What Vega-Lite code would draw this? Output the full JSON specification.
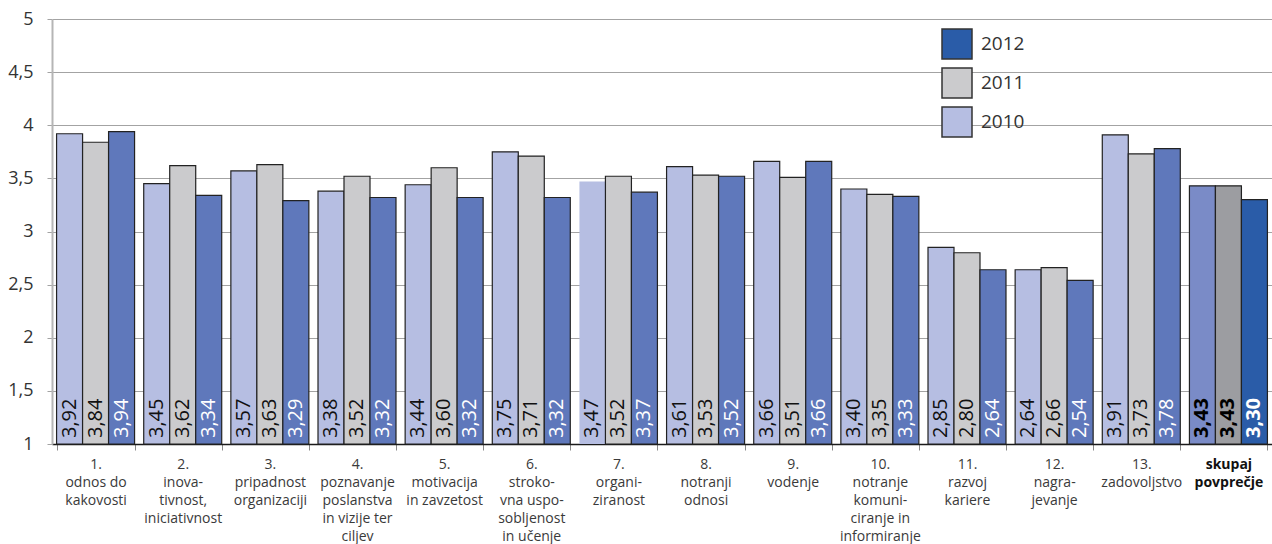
{
  "$schema": "https://vega.github.io/schema/vega-lite/v6.json",
  "width": 1220,
  "height": 425,
  "autosize": {"type": "none"},
  "padding": {"left": 52, "top": 19, "right": 0, "bottom": 100},
  "background": "#ffffff",
  "config": {
    "view": {"stroke": null},
    "font": "Open Sans",
    "locale": {"number": {"decimal": ",", "thousands": ".", "grouping": [3], "currency": ["", " €"]}}
  },
  "data": {
    "values": [
      {"podrocje": "1.|odnos do|kakovosti", "leto": "2010", "ocena": 3.92},
      {"podrocje": "1.|odnos do|kakovosti", "leto": "2011", "ocena": 3.84},
      {"podrocje": "1.|odnos do|kakovosti", "leto": "2012", "ocena": 3.94},
      {"podrocje": "2.|inova-|tivnost,|iniciativnost", "leto": "2010", "ocena": 3.45},
      {"podrocje": "2.|inova-|tivnost,|iniciativnost", "leto": "2011", "ocena": 3.62},
      {"podrocje": "2.|inova-|tivnost,|iniciativnost", "leto": "2012", "ocena": 3.34},
      {"podrocje": "3.|pripadnost|organizaciji", "leto": "2010", "ocena": 3.57},
      {"podrocje": "3.|pripadnost|organizaciji", "leto": "2011", "ocena": 3.63},
      {"podrocje": "3.|pripadnost|organizaciji", "leto": "2012", "ocena": 3.29},
      {"podrocje": "4.|poznavanje|poslanstva|in vizije ter|ciljev", "leto": "2010", "ocena": 3.38},
      {"podrocje": "4.|poznavanje|poslanstva|in vizije ter|ciljev", "leto": "2011", "ocena": 3.52},
      {"podrocje": "4.|poznavanje|poslanstva|in vizije ter|ciljev", "leto": "2012", "ocena": 3.32},
      {"podrocje": "5.|motivacija|in zavzetost", "leto": "2010", "ocena": 3.44},
      {"podrocje": "5.|motivacija|in zavzetost", "leto": "2011", "ocena": 3.60},
      {"podrocje": "5.|motivacija|in zavzetost", "leto": "2012", "ocena": 3.32},
      {"podrocje": "6.|stroko-|vna uspo-|sobljenost|in učenje", "leto": "2010", "ocena": 3.75},
      {"podrocje": "6.|stroko-|vna uspo-|sobljenost|in učenje", "leto": "2011", "ocena": 3.71},
      {"podrocje": "6.|stroko-|vna uspo-|sobljenost|in učenje", "leto": "2012", "ocena": 3.32},
      {"podrocje": "7.|organi-|ziranost", "leto": "2010", "ocena": 3.47},
      {"podrocje": "7.|organi-|ziranost", "leto": "2011", "ocena": 3.52},
      {"podrocje": "7.|organi-|ziranost", "leto": "2012", "ocena": 3.37},
      {"podrocje": "8.|notranji|odnosi", "leto": "2010", "ocena": 3.61},
      {"podrocje": "8.|notranji|odnosi", "leto": "2011", "ocena": 3.53},
      {"podrocje": "8.|notranji|odnosi", "leto": "2012", "ocena": 3.52},
      {"podrocje": "9.|vodenje", "leto": "2010", "ocena": 3.66},
      {"podrocje": "9.|vodenje", "leto": "2011", "ocena": 3.51},
      {"podrocje": "9.|vodenje", "leto": "2012", "ocena": 3.66},
      {"podrocje": "10.|notranje|komuni-|ciranje in|informiranje", "leto": "2010", "ocena": 3.40},
      {"podrocje": "10.|notranje|komuni-|ciranje in|informiranje", "leto": "2011", "ocena": 3.35},
      {"podrocje": "10.|notranje|komuni-|ciranje in|informiranje", "leto": "2012", "ocena": 3.33},
      {"podrocje": "11.|razvoj|kariere", "leto": "2010", "ocena": 2.85},
      {"podrocje": "11.|razvoj|kariere", "leto": "2011", "ocena": 2.80},
      {"podrocje": "11.|razvoj|kariere", "leto": "2012", "ocena": 2.64},
      {"podrocje": "12.|nagra-|jevanje", "leto": "2010", "ocena": 2.64},
      {"podrocje": "12.|nagra-|jevanje", "leto": "2011", "ocena": 2.66},
      {"podrocje": "12.|nagra-|jevanje", "leto": "2012", "ocena": 2.54},
      {"podrocje": "13.|zadovoljstvo", "leto": "2010", "ocena": 3.91},
      {"podrocje": "13.|zadovoljstvo", "leto": "2011", "ocena": 3.73},
      {"podrocje": "13.|zadovoljstvo", "leto": "2012", "ocena": 3.78},
      {"podrocje": "skupaj|povprečje", "leto": "2010", "ocena": 3.43},
      {"podrocje": "skupaj|povprečje", "leto": "2011", "ocena": 3.43},
      {"podrocje": "skupaj|povprečje", "leto": "2012", "ocena": 3.30}
    ]
  },
  "encoding": {
    "x": {
      "field": "podrocje",
      "type": "nominal",
      "sort": null,
      "scale": {"paddingInner": 0.105, "paddingOuter": 0.0525},
      "axis": {
        "title": null,
        "labelAngle": 0,
        "labelExpr": "split(datum.label, '|')",
        "labelFontSize": 14,
        "labelLineHeight": 18,
        "labelColor": {"condition": {"test": "datum.value == 'skupaj|povprečje'", "value": "#111111"}, "value": "#3a3a3a"},
        "labelFontWeight": {"condition": {"test": "datum.value == 'skupaj|povprečje'", "value": "bold"}, "value": "normal"},
        "labelBaseline": "top",
        "labelPadding": 7,
        "labelLimit": 200,
        "labelOverlap": false,
        "tickBand": "extent",
        "tickColor": "#8a8a8a",
        "tickSize": 6,
        "domainColor": "#1a1a1a",
        "domainWidth": 1.5
      }
    },
    "xOffset": {"field": "leto", "type": "nominal", "scale": {"domain": ["2010", "2011", "2012"], "paddingInner": 0}},
    "y": {
      "field": "ocena",
      "type": "quantitative",
      "scale": {"domain": [1, 5], "zero": false, "nice": false},
      "axis": {
        "title": null,
        "values": [1, 1.5, 2, 2.5, 3, 3.5, 4, 4.5, 5],
        "format": ".1~f",
        "grid": true,
        "gridColor": "#a3a3a3",
        "gridWidth": 1,
        "domainColor": "#b5b5b5",
        "domainWidth": 2,
        "tickColor": "#a3a3a3",
        "tickSize": 5,
        "labelFontSize": 18,
        "labelColor": "#333333",
        "labelPadding": 14
      }
    }
  },
  "layer": [
    {
      "mark": {"type": "bar", "stroke": "#222222", "strokeWidth": 1.2},
      "encoding": {
        "y2": {"datum": 1},
        "color": {
          "field": "leto",
          "type": "nominal",
          "scale": {"domain": ["2012", "2011", "2010"], "range": ["#2a5ca8", "#cbcbcd", "#b6bee2"]},
          "condition": [
            {"test": "datum.podrocje == 'skupaj|povprečje' && datum.leto == '2010'", "value": "#7a8bc7"},
            {"test": "datum.podrocje == 'skupaj|povprečje' && datum.leto == '2011'", "value": "#9c9da1"},
            {"test": "datum.podrocje != 'skupaj|povprečje' && datum.leto == '2012'", "value": "#5f78bb"}
          ],
          "legend": {
            "title": null,
            "orient": "none",
            "legendX": 889,
            "legendY": 9,
            "symbolType": "square",
            "symbolSize": 900,
            "symbolStrokeColor": "#333333",
            "symbolStrokeWidth": 1.5,
            "symbolOpacity": 1,
            "labelFontSize": 19,
            "labelColor": "#333333",
            "labelOffset": 8,
            "rowPadding": 3,
            "padding": 0
          }
        },
        "strokeOpacity": {"condition": {"test": "datum.podrocje == '7.|organi-|ziranost' && datum.leto == '2010'", "value": 0}, "value": 1}
      }
    },
    {
      "transform": [{"filter": "datum.podrocje != 'skupaj|povprečje'"}],
      "mark": {"type": "text", "angle": 270, "align": "left", "baseline": "middle", "dx": 6, "fontSize": 20},
      "encoding": {
        "y": {"datum": 1},
        "text": {"field": "ocena", "type": "quantitative", "format": ".2f"},
        "color": {"condition": {"test": "datum.leto == '2012'", "value": "#ffffff"}, "value": "#111111"}
      }
    },
    {
      "transform": [{"filter": "datum.podrocje == 'skupaj|povprečje'"}],
      "mark": {"type": "text", "angle": 270, "align": "left", "baseline": "middle", "dx": 6, "fontSize": 20, "fontWeight": "bold"},
      "encoding": {
        "y": {"datum": 1},
        "text": {"field": "ocena", "type": "quantitative", "format": ".2f"},
        "color": {"condition": {"test": "datum.leto == '2012'", "value": "#ffffff"}, "value": "#000000"}
      }
    }
  ]
}
